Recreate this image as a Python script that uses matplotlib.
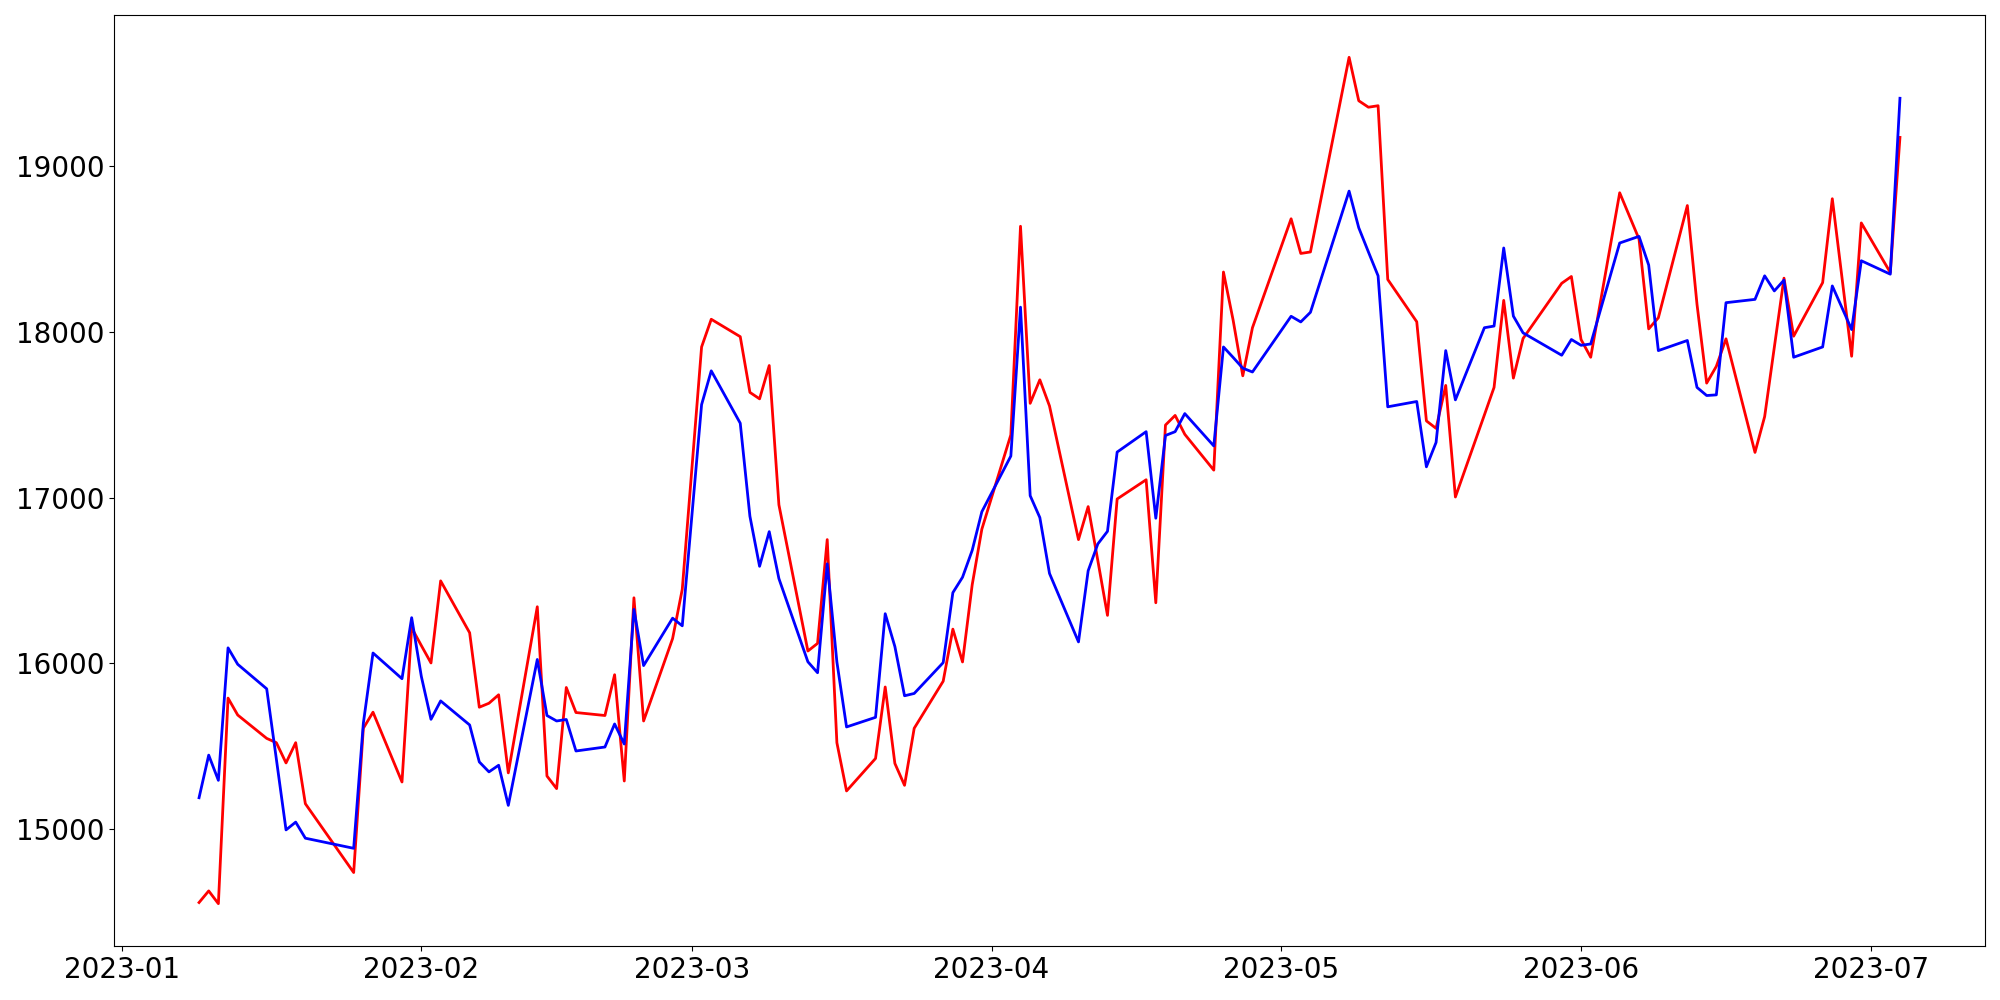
import numpy as np
import matplotlib
matplotlib.use('Agg')
import matplotlib.pyplot as plt
import matplotlib.dates as mdates

dates = [
    '2023-01-09', '2023-01-10', '2023-01-11', '2023-01-12', '2023-01-13',
    '2023-01-16', '2023-01-17', '2023-01-18', '2023-01-19', '2023-01-20',
    '2023-01-25', '2023-01-26', '2023-01-27', '2023-01-30', '2023-01-31',
    '2023-02-01', '2023-02-02', '2023-02-03', '2023-02-06', '2023-02-07',
    '2023-02-08', '2023-02-09', '2023-02-10', '2023-02-13', '2023-02-14',
    '2023-02-15', '2023-02-16', '2023-02-17', '2023-02-20', '2023-02-21',
    '2023-02-22', '2023-02-23', '2023-02-24', '2023-02-27', '2023-02-28',
    '2023-03-02', '2023-03-03', '2023-03-06', '2023-03-07', '2023-03-08',
    '2023-03-09', '2023-03-10', '2023-03-13', '2023-03-14', '2023-03-15',
    '2023-03-16', '2023-03-17', '2023-03-20', '2023-03-21', '2023-03-22',
    '2023-03-23', '2023-03-24', '2023-03-27', '2023-03-28', '2023-03-29',
    '2023-03-30', '2023-03-31', '2023-04-03', '2023-04-04', '2023-04-05',
    '2023-04-06', '2023-04-07', '2023-04-10', '2023-04-11', '2023-04-12',
    '2023-04-13', '2023-04-14', '2023-04-17', '2023-04-18', '2023-04-19',
    '2023-04-20', '2023-04-21', '2023-04-24', '2023-04-25', '2023-04-26',
    '2023-04-27', '2023-04-28', '2023-05-02', '2023-05-03', '2023-05-04',
    '2023-05-08', '2023-05-09', '2023-05-10', '2023-05-11', '2023-05-12',
    '2023-05-15', '2023-05-16', '2023-05-17', '2023-05-18', '2023-05-19',
    '2023-05-22', '2023-05-23', '2023-05-24', '2023-05-25', '2023-05-26',
    '2023-05-30', '2023-05-31', '2023-06-01', '2023-06-02', '2023-06-05',
    '2023-06-07', '2023-06-08', '2023-06-09', '2023-06-12', '2023-06-13',
    '2023-06-14', '2023-06-15', '2023-06-16', '2023-06-19', '2023-06-20',
    '2023-06-21', '2023-06-22', '2023-06-23', '2023-06-26', '2023-06-27',
    '2023-06-28', '2023-06-29', '2023-06-30', '2023-07-03', '2023-07-04',
]

blue_vals = [
    15190, 15447, 15295, 16094, 15995,
    15847, 15423, 14996, 15043, 14946,
    14885, 15639, 16063, 15908, 16276,
    15922, 15663, 15774, 15629, 15406,
    15346, 15386, 15144, 16024, 15686,
    15653, 15662, 15472, 15496, 15635,
    15514, 16326, 15987, 16273, 16227,
    17561, 17765, 17449, 16888, 16586,
    16795, 16512, 16010, 15944, 16601,
    16009, 15617, 15675, 16300, 16102,
    15805, 15819, 16005, 16427, 16520,
    16682, 16915, 17251, 18149, 17012,
    16880, 16543, 16130, 16559, 16721,
    16797, 17275, 17398, 16876, 17375,
    17398, 17507, 17312, 17909, 17846,
    17781, 17758, 18094, 18060, 18118,
    18849, 18628, 18482, 18338, 17548,
    17580, 17186, 17333, 17887, 17590,
    18025, 18035, 18506, 18095, 17994,
    17859, 17954, 17919, 17927, 18536,
    18576, 18403, 17887, 17948, 17665,
    17616, 17620, 18176, 18196, 18338,
    18247, 18312, 17847, 17909, 18277,
    18146, 18014, 18429, 18348, 19409,
]

red_vals = [
    14558, 14628, 14551, 15791, 15689,
    15548, 15522, 15400, 15522, 15154,
    14739, 15609, 15706, 15285, 16215,
    16108, 16003, 16498, 16185, 15736,
    15760, 15811, 15340, 16342, 15321,
    15245, 15855, 15704, 15686, 15932,
    15291, 16396, 15653, 16150, 16447,
    17909, 18076, 17971, 17635, 17596,
    17797, 16957, 16075, 16121, 16747,
    15522, 15231, 15427, 15858, 15397,
    15265, 15609, 15893, 16207, 16009,
    16474, 16810, 17379, 18637, 17569,
    17711, 17553, 16747, 16946, 16621,
    16290, 16992, 17108, 16366, 17438,
    17496, 17382, 17166, 18361, 18071,
    17735, 18025, 18682, 18473, 18482,
    19656, 19394, 19355, 19364, 18316,
    18061, 17463, 17418, 17677, 17004,
    17499, 17665, 18190, 17721, 17960,
    18293, 18334, 17954, 17847, 18839,
    18560, 18018, 18085, 18762, 18166,
    17691, 17792, 17958, 17273, 17489,
    17907, 18324, 17974, 18297, 18803,
    18328, 17853, 18657, 18358, 19173,
]

x = np.array(dates, dtype='datetime64[D]')

fig = plt.figure(figsize=(20, 10), dpi=100)
ax = fig.add_subplot(111)

ax.plot(x, red_vals, color='red', linewidth=2)
ax.plot(x, blue_vals, color='blue', linewidth=2)

ax.xaxis.set_major_locator(mdates.MonthLocator())
ax.xaxis.set_major_formatter(mdates.DateFormatter('%Y-%m'))
ax.tick_params(labelsize=20)

fig.subplots_adjust(left=0.057, right=0.9925, top=0.985, bottom=0.054)
plt.savefig('out.png')
plt.close(fig)
